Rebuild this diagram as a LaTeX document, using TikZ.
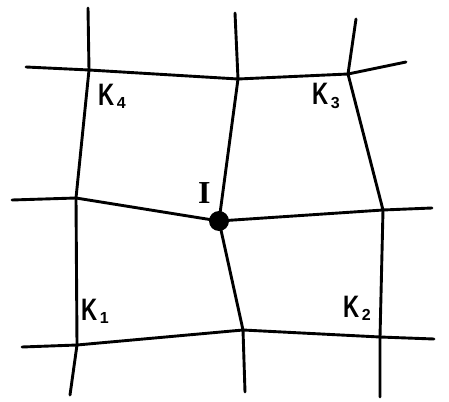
\documentclass[tikz,border=0pt]{standalone}
\usepackage{fontspec}
\setmainfont{Liberation Sans}
\newfontfamily\slabfont{Liberation Serif}
\newcommand{\kmark}[1]{\bfseries\scalebox{.72}[1]{\fontsize{31}{31}\selectfont K}\hspace{2.5pt}\raisebox{-3pt}{\fontsize{16}{16}\selectfont #1}}
\tikzset{edge/.style={line width=2.9pt,black,line cap=round,line join=round},
lab/.style={inner sep=0pt,anchor=base west},
pt/.style={coordinate}}
\begin{document}
\begin{tikzpicture}[x=1pt,y=-1pt]
\useasboundingbox (0,0) rectangle (449,401);
\node[pt] (k4) at (89,70) {};
\node[pt] (t) at (238,79) {};
\node[pt] (k3) at (348,74) {};
\node[pt] (l) at (76,198) {};
\node[pt] (i) at (219,221) {};
\node[pt] (r) at (383,210) {};
\node[pt] (k1) at (77,345) {};
\node[pt] (b) at (243,330) {};
\node[pt] (k2) at (380,337) {};
\node[pt] (e1) at (88,8) {};
\node[pt] (e2) at (235,13) {};
\node[pt] (e3) at (356,19) {};
\node[pt] (e4) at (26,67) {};
\node[pt] (e5) at (406,62) {};
\node[pt] (e6) at (12,200) {};
\node[pt] (e7) at (432,208) {};
\node[pt] (e8) at (22,347) {};
\node[pt] (e9) at (434,339) {};
\node[pt] (e10) at (70,395) {};
\node[pt] (e11) at (245,392) {};
\node[pt] (e12) at (380,397) {};
\draw[edge] (e4)--(k4)--(t)--(k3)--(e5);
\draw[edge] (e6)--(l)--(i)--(r)--(e7);
\draw[edge] (e8)--(k1)--(b)--(k2)--(e9);
\draw[edge] (e1)--(k4)--(l)--(k1)--(e10);
\draw[edge] (e2)--(t)--(i)--(b)--(e11);
\draw[edge] (e3)--(k3)--(r)--(k2)--(e12);
\fill (i) circle (10);
\node[lab] (n4) at (98,106) {\kmark{4}};
\node[lab] (n3) at (312,105) {\kmark{3}};
\node[lab] (n1) at (81,320) {\kmark{1}};
\node[lab] (n2) at (343,317) {\kmark{2}};
\node[lab] (ni) at (198,203) {\slabfont\bfseries\fontsize{32}{32}\selectfont I};
\end{tikzpicture}
\end{document}
